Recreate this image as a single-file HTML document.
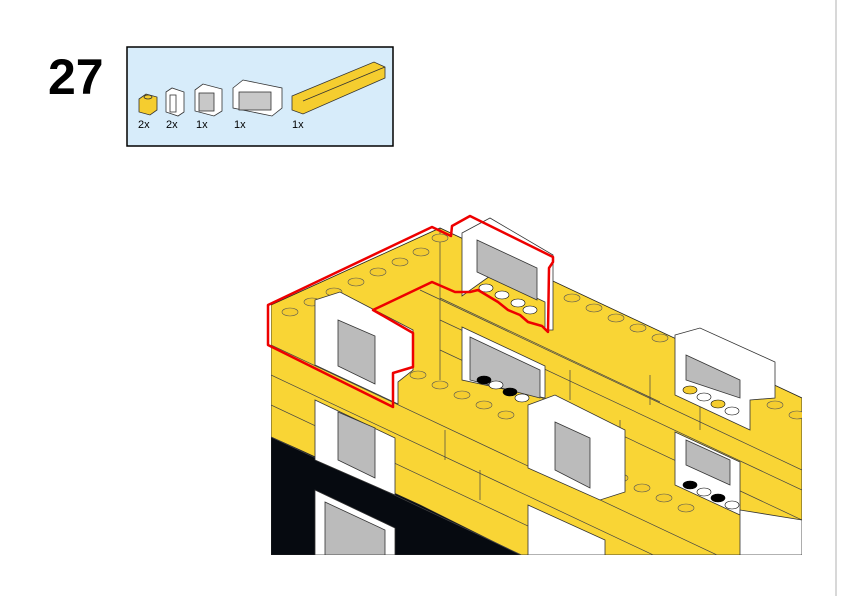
<!DOCTYPE html>
<html><head><meta charset="utf-8"><style>
html,body{margin:0;padding:0;background:#fff;width:842px;height:596px;overflow:hidden;font-family:"Liberation Sans",sans-serif}
svg{display:block}
</style></head><body>
<svg width="842" height="596" viewBox="0 0 842 596" xmlns="http://www.w3.org/2000/svg">
<rect width="842" height="596" fill="#fff"/>
<line x1="836" y1="0" x2="836" y2="596" stroke="#ccc" stroke-width="1.5"/>
<text x="48" y="94" font-family="Liberation Sans" font-weight="bold" font-size="50" fill="#000">27</text>
<rect x="127" y="47" width="266" height="99" fill="#d7ecfa" stroke="#000" stroke-width="1.5"/>
<!-- parts -->
<g stroke="#333" stroke-width="0.8">
<polygon points="139,99 146,94 157,97 157,110 150,115 139,112" fill="#f5cd2f"/>
<ellipse cx="148" cy="97" rx="4" ry="2" fill="#f5cd2f"/>
<polygon points="166,92 172,88 184,92 184,112 178,116 166,112" fill="#fff"/>
<rect x="170" y="95" width="6" height="17" fill="#fff"/>
<polygon points="195,90 203,84 222,89 222,111 214,116 195,111" fill="#fff"/>
<rect x="199" y="93" width="15" height="18" fill="#c8c8c8"/>
<polygon points="233,88 243,80 282,88 282,108 272,116 233,108" fill="#fff"/>
<rect x="239" y="92" width="32" height="18" fill="#c8c8c8"/>
<polygon points="292,96 374,62 385,67 385,78 303,114 292,110" fill="#f5cd2f"/>
<line x1="303" y1="101" x2="385" y2="67"/>
</g>
<g font-size="11" fill="#000" font-family="Liberation Sans">
<text x="138" y="128">2x</text><text x="166" y="128">2x</text><text x="196" y="128">1x</text><text x="234" y="128">1x</text><text x="292" y="128">1x</text>
</g>
<!-- model -->
<defs><clipPath id="c"><rect x="271" y="200" width="531" height="355"/></clipPath></defs>
<g clip-path="url(#c)" stroke="#222" stroke-width="0.8">
<polygon points="271,305 440,228 802,398 802,555 271,555" fill="#f9d535"/>
<polygon points="271,437 300,450 420,505 520,555 271,555" fill="#060a10"/>
<g fill="none" stroke="#444" stroke-width="0.7">
<line x1="271" y1="345" x2="802" y2="595"/>
<line x1="271" y1="375" x2="802" y2="625"/>
<line x1="271" y1="405" x2="802" y2="655"/>
<line x1="271" y1="437" x2="802" y2="687"/>
<line x1="420" y1="290" x2="802" y2="470"/>
<line x1="440" y1="320" x2="802" y2="490"/>
<line x1="440" y1="350" x2="802" y2="520"/>
<line x1="440" y1="228" x2="440" y2="380"/>
<line x1="440" y1="298" x2="660" y2="402"/>
<line x1="570" y1="370" x2="570" y2="400"/>
<line x1="620" y1="420" x2="620" y2="450"/>
<line x1="650" y1="375" x2="650" y2="405"/>
<line x1="700" y1="400" x2="700" y2="430"/>
<line x1="445" y1="430" x2="445" y2="460"/>
<line x1="480" y1="470" x2="480" y2="500"/>
</g>
<g fill="#f5cd2f" stroke="#555" stroke-width="0.6">
<ellipse cx="290" cy="312" rx="8" ry="4"/><ellipse cx="312" cy="302" rx="8" ry="4"/><ellipse cx="334" cy="292" rx="8" ry="4"/><ellipse cx="356" cy="282" rx="8" ry="4"/><ellipse cx="378" cy="272" rx="8" ry="4"/><ellipse cx="400" cy="262" rx="8" ry="4"/><ellipse cx="421" cy="252" rx="8" ry="4"/><ellipse cx="440" cy="238" rx="8" ry="4"/>
<ellipse cx="572" cy="298" rx="8" ry="4"/><ellipse cx="594" cy="308" rx="8" ry="4"/><ellipse cx="616" cy="318" rx="8" ry="4"/><ellipse cx="638" cy="328" rx="8" ry="4"/><ellipse cx="660" cy="338" rx="8" ry="4"/>
<ellipse cx="418" cy="375" rx="8" ry="4"/><ellipse cx="440" cy="385" rx="8" ry="4"/><ellipse cx="462" cy="395" rx="8" ry="4"/><ellipse cx="484" cy="405" rx="8" ry="4"/><ellipse cx="506" cy="415" rx="8" ry="4"/>
<ellipse cx="620" cy="478" rx="8" ry="4"/><ellipse cx="642" cy="488" rx="8" ry="4"/><ellipse cx="664" cy="498" rx="8" ry="4"/><ellipse cx="686" cy="508" rx="8" ry="4"/><ellipse cx="775" cy="405" rx="8" ry="4"/><ellipse cx="797" cy="415" rx="8" ry="4"/>
</g>
<g fill="#fff" stroke="#333" stroke-width="0.8">
<polygon points="462,233 490,218 553,255 553,330 545,330 545,302 490,276 462,296"/>
<polygon points="477,240 537,268 537,300 477,272" fill="#bbb"/>
<polygon points="462,327 545,366 545,398 462,380"/>
<polygon points="470,337 540,370 540,398 470,380" fill="#bbb"/>
<polygon points="315,300 340,292 413,330 413,370 398,382 398,404 315,365"/>
<polygon points="338,320 375,336 375,384 338,366" fill="#bbb"/>
<polygon points="315,400 395,438 395,495 315,460"/>
<polygon points="338,412 375,428 375,478 338,460" fill="#bbb"/>
<polygon points="528,405 555,395 625,430 625,492 600,500 528,468"/>
<polygon points="555,422 590,438 590,488 555,470" fill="#bbb"/>
<polygon points="675,335 700,328 775,362 775,398 750,400 750,430 675,395"/>
<polygon points="686,355 740,380 740,398 686,380" fill="#bbb"/>
<polygon points="675,432 740,462 740,515 675,485"/>
<polygon points="686,440 730,460 730,485 686,465" fill="#bbb"/>
<polygon points="315,490 395,528 395,555 315,555"/>
<polygon points="325,502 385,530 385,555 325,555" fill="#bbb"/>
<polygon points="528,505 605,540 605,555 528,555"/>
<polygon points="740,510 802,520 802,555 740,555"/>
</g>
<g stroke="#000" stroke-width="0.6">
<ellipse cx="484" cy="380" rx="7" ry="4" fill="#000"/><ellipse cx="496" cy="385" rx="7" ry="4" fill="#fff"/><ellipse cx="510" cy="392" rx="7" ry="4" fill="#000"/><ellipse cx="522" cy="398" rx="7" ry="4" fill="#fff"/>
<ellipse cx="690" cy="485" rx="7" ry="4" fill="#000"/><ellipse cx="704" cy="492" rx="7" ry="4" fill="#fff"/><ellipse cx="718" cy="498" rx="7" ry="4" fill="#000"/><ellipse cx="732" cy="505" rx="7" ry="4" fill="#fff"/>
<ellipse cx="690" cy="390" rx="7" ry="4" fill="#f5cd2f"/><ellipse cx="704" cy="397" rx="7" ry="4" fill="#fff"/><ellipse cx="718" cy="404" rx="7" ry="4" fill="#f5cd2f"/><ellipse cx="732" cy="411" rx="7" ry="4" fill="#fff"/>
<ellipse cx="486" cy="288" rx="7" ry="4" fill="#fff"/><ellipse cx="502" cy="295" rx="7" ry="4" fill="#fff"/><ellipse cx="518" cy="303" rx="7" ry="4" fill="#fff"/><ellipse cx="530" cy="310" rx="7" ry="4" fill="#fff"/>
</g>
</g>
<!-- red outline -->
<polygon points="268,305 432,227 451,236 452,226 470,216 553,257 553,262 549,268 548,332 542,326 528,322 520,315 508,310 498,302 488,296 478,290 470,292 455,292 432,282 373,310 413,333 413,367 393,373 393,407 268,345" fill="none" stroke="#e00" stroke-width="2.5" stroke-linejoin="round"/>
</svg>
</body></html>
